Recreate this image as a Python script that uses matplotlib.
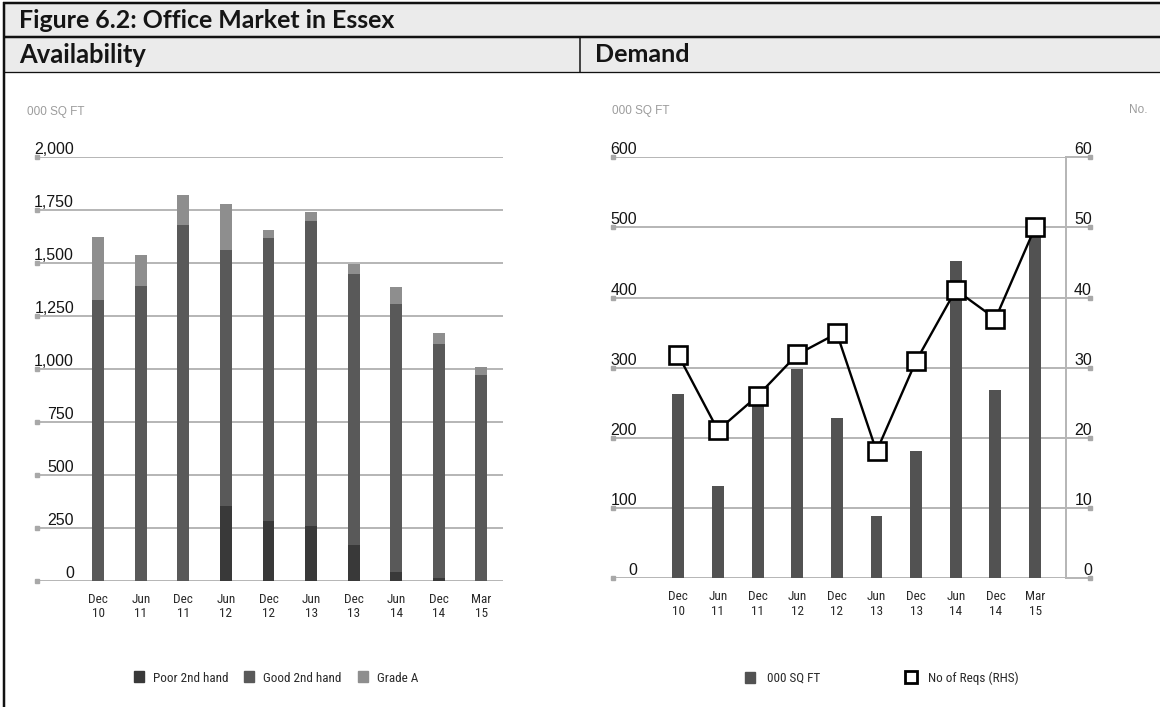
import matplotlib
matplotlib.use("Agg")
import matplotlib.pyplot as plt
import matplotlib.transforms as mtransforms
from matplotlib.lines import Line2D
from matplotlib.patches import Rectangle, Patch
from matplotlib import font_manager

# ---------------- data ----------------
title = "Figure 6.2: Office Market in Essex"
left_header = "Availability"
right_header = "Demand"

periods = ["Dec\n10", "Jun\n11", "Dec\n11", "Jun\n12", "Dec\n12",
           "Jun\n13", "Dec\n13", "Jun\n14", "Dec\n14", "Mar\n15"]

# Availability (000 sq ft), stacked
poor_2nd = [0, 0, 0, 354, 282, 257, 170, 41, 13, 0]
good_2nd = [1327, 1393, 1679, 1210, 1335, 1441, 1280, 1265, 1104, 970]
grade_a = [298, 144, 143, 214, 38, 45, 46, 81, 53, 41]
avail_ticks = [0, 250, 500, 750, 1000, 1250, 1500, 1750, 2000]
avail_tick_labels = ["0", "250", "500", "750", "1,000", "1,250", "1,500", "1,750", "2,000"]

# Demand
demand_sqft = [262, 131, 250, 299, 228, 89, 182, 452, 268, 492]
no_of_reqs = [31.8, 21.1, 26.0, 31.9, 34.9, 18.1, 31.0, 41.1, 37.0, 50.0]
demand_ticks = [0, 100, 200, 300, 400, 500, 600]
reqs_ticks = [0, 10, 20, 30, 40, 50, 60]

avail_legend = ["Poor 2nd hand", "Good 2nd hand", "Grade A"]
demand_legend = ["000 SQ FT", "No of Reqs (RHS)"]
unit_label = "000 SQ FT"
rhs_unit_label = "No."

# ---------------- style ----------------
W, H, DPI = 1160, 707, 100
names = {f.name for f in font_manager.fontManager.ttflist}
def pick(cands):
    for c in cands:
        if c in names:
            return c
    return "DejaVu Sans"
SANS = pick(["Liberation Sans", "Arimo", "DejaVu Sans"])
NARROW = pick(["Liberation Sans Narrow", "Roboto Condensed", "Liberation Sans"])
HEAD = pick(["Lato", "Open Sans", "DejaVu Sans"])

C_POOR, C_GOOD, C_A = "#393939", "#595959", "#8e8e8e"
C_DEM = "#525252"
C_GRID = "#b5b5b5"
C_TXT = "#151515"
C_UNIT = "#9c9c9c"

fig = plt.figure(figsize=(W / DPI, H / DPI), dpi=DPI)
fig.patch.set_facecolor("white")

def fx(px):
    return px / W

def fy(py):
    return 1 - py / H

PX = 72.0 / DPI  # points per pixel

# ---------------- frame / header ----------------
fig.patches.append(Rectangle((fx(4), fy(72)), 1 - fx(4), fy(3) - fy(72),
                             transform=fig.transFigure, facecolor="#ebebeb",
                             edgecolor="none", zorder=0))
def fline(x0, y0, x1, y1, lw):
    fig.lines.append(Line2D([fx(x0), fx(x1)], [fy(y0), fy(y1)], transform=fig.transFigure,
                            color="#111111", lw=lw * PX, solid_capstyle="butt"))
fline(3, 3, 1160, 3, 2.5)
fline(3, 37, 1160, 37, 2.5)
fline(3, 72, 1160, 72, 1.3)
fline(4, 2, 4, 707, 2.5)
fline(580, 37, 580, 72, 1.5)

def fit_text(x, y, s, target_w, fs0=16, **kw):
    t = fig.text(fx(x), fy(y), s, fontsize=fs0, **kw)
    fig.canvas.draw()
    w = t.get_window_extent().width
    t.set_fontsize(fs0 * target_w / w)
    return t

fit_text(19, 21, title, 376, family=HEAD, fontweight="bold", va="center", ha="left", color="#151515")
fit_text(19, 55, left_header, 127, family=HEAD, fontweight="bold", va="center", ha="left", color="#151515")
fit_text(595, 55, right_header, 95, family=HEAD, fontweight="bold", va="center", ha="left", color="#151515")

# ---------------- helpers ----------------
def style_axes(ax):
    for s in ax.spines.values():
        s.set_visible(False)
    ax.set_yticks([])
    ax.tick_params(axis="x", length=0, pad=8.5, labelsize=9.5, labelcolor="#2a2a2a")
    for lab in ax.get_xticklabels():
        lab.set_family(NARROW)
        lab.set_linespacing(1.15)

def left_grid(ax, ticks, labels, label_right_px):
    blend = mtransforms.blended_transform_factory(ax.transAxes, ax.transData)
    for t, lab in zip(ticks, labels):
        ax.axhline(t, color=C_GRID, lw=1.4, zorder=1)
        ax.annotate(lab, xy=(0, t), xycoords=blend, xytext=(label_right_px * PX, 3 * PX),
                    textcoords="offset points", ha="right", va="baseline",
                    fontsize=11.5, family=SANS, color=C_TXT, annotation_clip=False)
    ax.plot([0] * len(ticks), ticks, transform=blend, ls="none", marker="s", ms=3.5,
            color="#a8a8a8", clip_on=False, zorder=2)

# ---------------- Availability chart ----------------
axL = fig.add_axes([fx(37), fy(580.7), fx(503) - fx(37), (580.7 - 157.3) / H])
x = list(range(len(periods)))
axL.set_xlim(-1.44, 9.51)
axL.set_ylim(0, 2000)
left_grid(axL, avail_ticks, avail_tick_labels, 74 - 37)
bw = 0.28
axL.bar(x, poor_2nd, width=bw, color=C_POOR, zorder=3)
axL.bar(x, good_2nd, width=bw, bottom=poor_2nd, color=C_GOOD, zorder=3)
bottoms = [p + g for p, g in zip(poor_2nd, good_2nd)]
axL.bar(x, grade_a, width=bw, bottom=bottoms, color=C_A, zorder=3)
axL.set_xticks(x)
axL.set_xticklabels(periods)
style_axes(axL)
fig.text(fx(27), fy(112), unit_label, fontsize=8.5, family=SANS, color=C_UNIT, va="center", ha="left")

leg1 = fig.legend(handles=[Patch(color=C_POOR), Patch(color=C_GOOD), Patch(color=C_A)],
                  labels=avail_legend, loc="center", bbox_to_anchor=(fx(276), fy(678)),
                  ncol=3, frameon=False, handlelength=0.75, handleheight=0.9,
                  columnspacing=1.2, handletextpad=0.7,
                  prop={"family": NARROW, "size": 9.5})
for t in leg1.get_texts():
    t.set_color("#2a2a2a")

# ---------------- Demand chart ----------------
axR = fig.add_axes([fx(613), fy(578.3), fx(1066) - fx(613), (578.3 - 157.3) / H])
axR.set_xlim(-1.648, 9.78)
axR.set_ylim(0, 600)
left_grid(axR, demand_ticks, [str(v) for v in demand_ticks], 637 - 613)
axR.bar(x, demand_sqft, width=0.30, color=C_DEM, zorder=3)
axR.set_xticks(x)
axR.set_xticklabels(periods)
style_axes(axR)

ax2 = axR.twinx()
ax2.set_ylim(0, 60)
ax2.axis("off")
blend2 = mtransforms.blended_transform_factory(ax2.transAxes, ax2.transData)
ax2.plot([1, 1], [0, 60], transform=blend2, color=C_GRID, lw=1.4, clip_on=False)
ext = 24 / (1066 - 613)
for t in reqs_ticks:
    ax2.plot([1, 1 + ext], [t, t], transform=blend2, color=C_GRID, lw=1.4, clip_on=False)
    ax2.annotate(str(t), xy=(1 + ext, t), xycoords=blend2, xytext=(2 * PX, 3 * PX),
                 textcoords="offset points", ha="right", va="baseline",
                 fontsize=11.5, family=SANS, color=C_TXT, annotation_clip=False)
ax2.plot([1 + ext] * len(reqs_ticks), reqs_ticks, transform=blend2, ls="none", marker="s",
         ms=3.5, color="#a8a8a8", clip_on=False)
ax2.plot(x, no_of_reqs, color="black", lw=1.7, marker="s", ms=12.5, mfc="white",
         mec="black", mew=1.9, zorder=5, clip_on=False)

fig.text(fx(612), fy(111), unit_label, fontsize=8.5, family=SANS, color=C_UNIT, va="center", ha="left")
fig.text(fx(1148), fy(110), rhs_unit_label, fontsize=8.5, family=SANS, color=C_UNIT, va="center", ha="right")

leg2 = fig.legend(handles=[Patch(color=C_DEM),
                           Line2D([], [], ls="none", marker="s", ms=9, mfc="white", mec="black", mew=2)],
                  labels=demand_legend, loc="center", bbox_to_anchor=(fx(882), fy(678)),
                  ncol=2, frameon=False, handlelength=0.75, handleheight=0.9,
                  columnspacing=6.5, handletextpad=0.9,
                  prop={"family": NARROW, "size": 9.5})
for t in leg2.get_texts():
    t.set_color("#2a2a2a")

fig.savefig("out.png", dpi=DPI, facecolor="white")
